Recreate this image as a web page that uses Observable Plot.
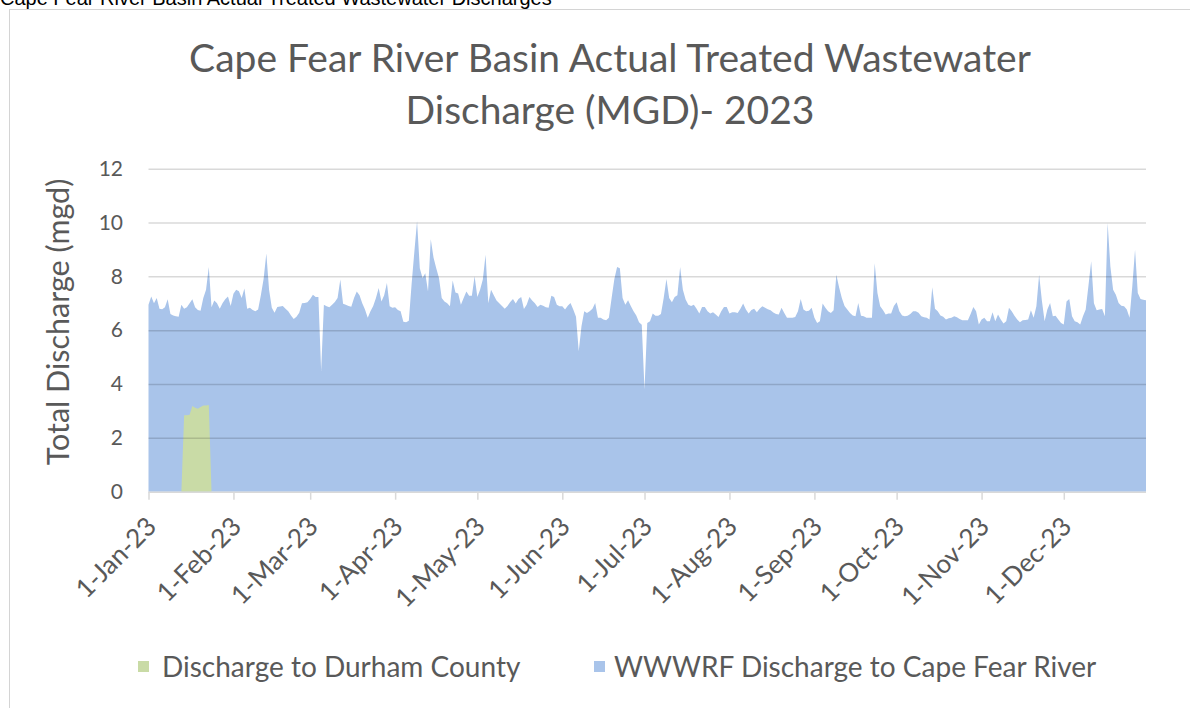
<!DOCTYPE html>
<html>
<head>
<meta charset="utf-8">
<script src="https://cdn.jsdelivr.net/npm/d3@7"></script>
<script src="https://cdn.jsdelivr.net/npm/@observablehq/plot@0.6"></script>
<style>
  html, body { margin: 0; padding: 0; background: #fff; }
  body { width: 1190px; height: 708px; overflow: hidden; position: relative; font-family: Lato, "Open Sans", sans-serif; color: #595959; }
  #caption { position: absolute; left: 0; top: -12px; font-family: "Liberation Sans", Arial, sans-serif; font-size: 20px; line-height: 20px; color: #000; white-space: nowrap; }
  #frame { position: absolute; left: 9px; top: 9px; width: 1200px; height: 720px; border: 1.5px solid #d4d4d4; box-sizing: border-box; }
  #title { position: absolute; left: 0; width: 1220px; top: 31px; text-align: center; font-size: 39px; line-height: 52px; color: #595959; }
  #ytitle { position: absolute; left: -143px; width: 400px; top: 304px; height: 36px; line-height: 36px; text-align: center; font-size: 30.5px; transform: rotate(-90deg); transform-origin: 200px 18px; white-space: nowrap; }
  #chart { position: absolute; left: 0; top: 0; }
  .leg { position: absolute; top: 648px; font-size: 28px; line-height: 36px; white-space: nowrap; color: #595959; }
  .sw { position: absolute; width: 11px; height: 11px; top: 13px; }
</style>
</head>
<body>
<div id="caption">Cape Fear River Basin Actual Treated Wastewater Discharges</div>
<div id="frame"></div>
<div id="chart"></div>
<div id="title">Cape Fear River Basin Actual Treated Wastewater<br>Discharge (MGD)- 2023</div>
<div id="ytitle">Total Discharge (mgd)</div>
<div class="leg" style="left:162px"><span class="sw" style="left:-24px;background:#c9dba6"></span>Discharge to Durham County</div>
<div class="leg" style="left:614px"><span class="sw" style="left:-20px;background:#a9c4ea"></span>WWWRF Discharge to Cape Fear River</div>
<script>
// WWWRF Discharge to Cape Fear River (MGD), one value per day of 2023, by month
const jan = [6.95,7.25,7.0,7.2,6.8,6.78,6.85,7.15,6.6,6.55,6.52,6.5,6.95,6.8,6.85,7.0,7.15,6.85,6.75,6.72,7.2,7.5,8.35,6.85,7.1,7.0,6.8,7.0,7.15,7.25,6.9];
const feb = [7.35,7.5,7.45,7.2,7.55,6.8,6.83,6.75,6.7,6.77,7.3,7.9,8.85,7.5,6.83,6.65,6.86,6.88,6.9,6.8,6.7,6.55,6.42,6.5,6.65,7.0,7.01,7.04];
const mar = [7.16,7.32,7.23,7.23,4.48,6.95,6.89,6.85,6.95,7.05,7.2,7.88,6.98,6.95,6.9,6.87,7.2,7.44,7.3,7.0,6.77,6.46,6.7,6.9,7.2,7.57,7.07,7.3,7.75,6.89,6.83];
const apr = [6.85,6.75,6.7,6.31,6.3,6.35,7.7,8.9,10.05,8.3,7.94,8.12,7.44,9.38,8.7,8.3,7.94,7.2,7.07,7.0,6.89,7.85,7.4,7.36,6.95,7.2,7.44,7.28,7.28,8.0];
const may = [7.23,7.5,7.88,8.8,7.0,7.5,7.3,7.1,7.0,6.9,6.8,6.9,7.05,7.16,6.99,7.16,7.23,6.79,6.95,7.23,7.1,7.0,6.86,6.95,6.91,6.85,6.83,7.28,7.23,6.95,6.89];
const jun = [6.89,6.77,6.91,7.01,6.77,6.5,5.22,6.15,6.7,6.64,6.7,6.8,7.01,6.46,6.46,6.4,6.37,6.46,7.2,7.9,8.35,8.3,7.2,6.95,7.11,6.9,6.7,6.55,6.3,6.2];
const jul = [3.8,6.27,6.33,6.62,6.54,6.54,6.6,7.2,7.9,7.2,7.04,7.23,7.3,8.35,7.5,7.14,6.95,6.9,6.95,6.8,6.62,6.86,6.86,6.7,6.62,6.67,6.58,6.49,6.7,6.86,6.86];
const aug = [6.62,6.67,6.67,6.64,6.8,6.99,6.77,6.62,6.75,6.8,6.67,6.8,6.89,6.83,6.78,6.74,6.66,6.6,6.58,6.83,6.64,6.46,6.46,6.46,6.49,6.7,7.16,6.77,6.7,6.72,6.83];
const sep = [6.46,6.27,6.33,6.99,6.83,6.7,6.64,6.74,8.06,7.6,7.2,6.9,6.77,6.64,6.55,6.52,7.01,6.54,6.52,6.46,6.46,6.46,8.49,7.38,6.89,6.75,6.58,6.62,6.62,6.9];
const oct = [7.04,6.7,6.55,6.52,6.54,6.6,6.7,6.7,6.65,6.52,6.48,6.46,6.4,7.6,6.8,6.7,6.55,6.5,6.4,6.44,6.46,6.52,6.48,6.42,6.37,6.37,6.37,6.6,6.86,6.7,6.21];
const nov = [6.4,6.46,6.33,6.33,6.67,6.33,6.58,6.4,6.25,6.33,6.83,6.7,6.54,6.4,6.3,6.37,6.38,6.4,6.74,6.46,6.89,8.06,7.1,6.33,6.77,7.01,6.52,6.54,6.4,6.27];
const dec = [6.21,7.07,7.16,6.52,6.33,6.3,6.21,6.52,6.77,7.65,8.56,7.0,6.74,6.77,6.79,6.52,9.98,8.37,7.5,7.32,7.01,6.91,6.89,6.77,6.46,7.63,8.99,7.38,7.16,7.13,7.11];

// Discharge to Durham County (MGD), daily from 13-Jan-23
const durhamStart = "2023-01-13";
const durham = [0,2.84,2.84,2.86,3.18,3.12,3.08,3.15,3.2,3.2,3.22,0];

const yTicks = [0,2,4,6,8,10,12];
const seriesNames = ["Discharge to Durham County", "WWWRF Discharge to Cape Fear River"];
const seriesColors = ["#c9dba6", "#a9c4ea"];

const yearStart = new Date(Date.UTC(2023, 0, 1));
const cape = [jan,feb,mar,apr,may,jun,jul,aug,sep,oct,nov,dec].flat()
  .map((v, i) => ({date: d3.utcDay.offset(yearStart, i), value: v}));
const dStart = new Date(durhamStart + "T00:00:00Z");
const durhamData = durham.map((v, i) => ({date: d3.utcDay.offset(dStart, i), value: v}));
const monthTicks = d3.utcMonths(yearStart, new Date(Date.UTC(2023, 11, 2)));

const chart = Plot.plot({
  width: 1190,
  height: 708,
  marginLeft: 148.5,
  marginRight: 44,
  marginTop: 168.7,
  marginBottom: 216.3,
  style: {fontFamily: "Lato, 'Open Sans', sans-serif", fontSize: "21px", color: "#595959", background: "transparent", overflow: "visible"},
  x: {type: "utc", domain: [yearStart, new Date(Date.UTC(2023, 11, 31))]},
  y: {domain: [0, 12]},
  marks: [
    Plot.areaY(cape, {x: "date", y: "value", fill: seriesColors[1]}),
    Plot.areaY(durhamData, {x: "date", y: "value", fill: seriesColors[0]}),
    Plot.gridY(yTicks.filter(v => v > 0), {stroke: "#000", strokeOpacity: 0.15, strokeWidth: 1.5}),
    Plot.ruleY([0], {stroke: "#d9d9d9", strokeWidth: 1.5}),
    Plot.axisY(yTicks, {tickSize: 0, tickPadding: 26, label: null, fill: "#595959", fontSize: 21}),
    Plot.axisX(monthTicks, {tickSize: 8, tickFormat: () => "", label: null, stroke: "#d9d9d9", strokeWidth: 1.5}),
    Plot.axisX(monthTicks, {tickSize: 0, tickPadding: 30, dx: 3, tickRotate: -45, tickFormat: d3.utcFormat("%-d-%b-%y"), label: null, fill: "#595959", fontSize: 26})
  ]
});
document.getElementById("chart").appendChild(chart);
</script>
</body>
</html>
